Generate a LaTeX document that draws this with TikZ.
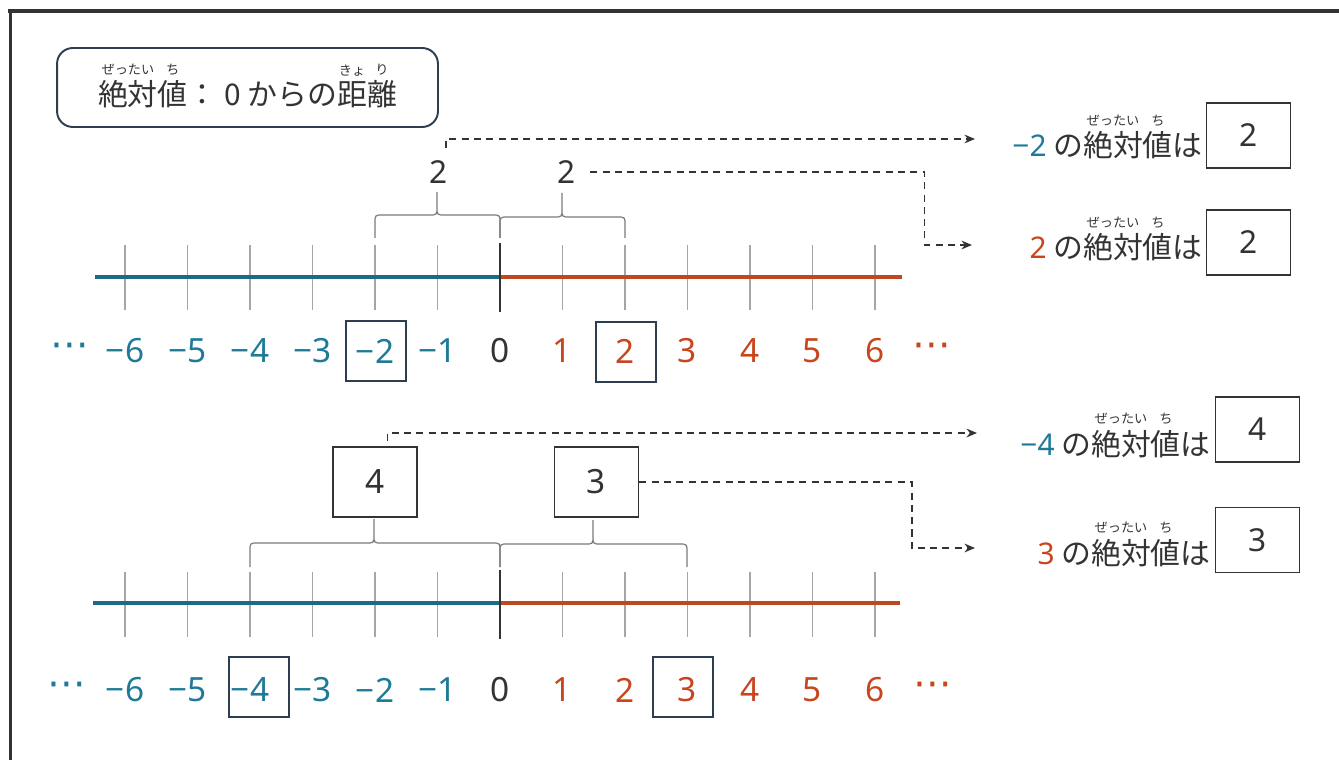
\documentclass[tikz,border=0pt]{standalone}
\usepackage{fontspec}
\setmainfont{Noto Sans CJK JP}
\newfontfamily\numfont{Noto Sans}
\newfontfamily\dotfont{DejaVu Sans}
\usetikzlibrary{arrows.meta}

\definecolor{negcol}{HTML}{1E7A98}
\definecolor{poscol}{HTML}{C7461E}
\definecolor{negline}{HTML}{1D6A84}
\definecolor{posline}{HTML}{BF4722}
\definecolor{inkcol}{HTML}{333333}
\definecolor{navycol}{HTML}{2C3E50}
\definecolor{bracecol}{HTML}{7A7A7A}

% ruby (furigana) over a base text
\newcommand\furi[2]{\begin{tabular}[b]{@{}c@{}}{\fontsize{7.5}{8}\selectfont #2}\\[-2.5pt]#1\end{tabular}}

\tikzset{
  numlbl/.style={font=\numfont\fontsize{19}{21}\selectfont, inner sep=1pt},
  dotlbl/.style={font=\dotfont\fontsize{22}{24}\selectfont, inner sep=1pt},
  boxed/.style={draw=navycol, line width=1.1pt, minimum width=1.2cm, minimum height=1.2cm},
  midbox/.style={draw=inkcol, line width=1.1pt, text=inkcol, font=\numfont\fontsize{19}{21}\selectfont, minimum width=1.68cm, minimum height=1.4cm},
  ansbox/.style={draw=inkcol, line width=1.1pt, text=inkcol, font=\numfont\fontsize{18}{20}\selectfont, minimum width=1.68cm, minimum height=1.3cm},
  jptext/.style={font=\fontsize{17}{20}\selectfont, text=inkcol, inner sep=0pt},
  distlbl/.style={font=\numfont\fontsize{18}{20}\selectfont, text=inkcol, inner sep=2pt},
  dasharrow/.style={draw=inkcol, line width=0.9pt, dash pattern=on 4pt off 3pt, -{Stealth[length=6pt,width=5pt]}},
  tickline/.style={draw=gray!70, line width=0.6pt},
  bracestyle/.style={draw=bracecol, line width=0.7pt},
}

\begin{document}
\begin{tikzpicture}[x=0.02cm,y=-0.02cm]
\useasboundingbox (0,0) rectangle (1339,760);

% frame, top and left side only
\draw[inkcol,line width=1.8pt] (8,11) -- (1339,11);
\draw[inkcol,line width=1.8pt] (10.5,11) -- (10.5,760);

% title
\node[jptext,draw=navycol,line width=1.1pt,rounded corners=9pt,minimum width=7.62cm,minimum height=1.58cm] (title) at (247.5,87.5)
  {\raisebox{2.5pt}[\height][\depth]{\furi{絶対}{ぜったい}\furi{値}{ち}： 0 からの\furi{距}{きょ}\furi{離}{り}}};

% upper number line
\foreach \k in {-6,...,6}
  \draw[tickline] ({500+62.5*\k},245) -- ({500+62.5*\k},310);
\draw[negline,line width=2.2pt] (95,277) -- (500,277);
\draw[posline,line width=2.2pt] (500,277) -- (902,277);
\draw[inkcol,line width=1.3pt] (500,243) -- (500,312);

\node[dotlbl,text=negcol] (udl) at (70,350) {⋯};
\foreach \k in {1,...,6}{
  \node[numlbl,text=negcol] (un\k) at ({500-62.5*\k},351) {−\k};
  \node[numlbl,text=poscol] (up\k) at ({500+62.5*\k},351) {\k};
}
\node[numlbl,text=inkcol] (uz) at (500,351) {0};
\node[dotlbl,text=poscol] (udr) at (932,350) {⋯};
\node[boxed] (ubxn) at (376,351) {};
\node[boxed] (ubxp) at (626,352) {};

% lower number line
\foreach \k in {-6,...,6}
  \draw[tickline] ({500+62.5*\k},572) -- ({500+62.5*\k},637);
\draw[negline,line width=2.2pt] (93,603) -- (500,603);
\draw[posline,line width=2.2pt] (500,603) -- (900,603);
\draw[inkcol,line width=1.3pt] (500,570) -- (500,639);

\node[dotlbl,text=negcol] (ldl) at (67,689) {⋯};
\foreach \k in {1,...,6}{
  \node[numlbl,text=negcol] (ln\k) at ({500-62.5*\k},690) {−\k};
  \node[numlbl,text=poscol] (lp\k) at ({500+62.5*\k},690) {\k};
}
\node[numlbl,text=inkcol] (lz) at (500,690) {0};
\node[dotlbl,text=poscol] (ldr) at (933,689) {⋯};
\node[boxed] (lbxn) at (259,687) {};
\node[boxed] (lbxp) at (683,687) {};

% braces
\foreach \xl/\xr/\xm/\ye/\yf/\yt in {375/500/437/238/215/192, 500/625/562/238/217/193,
                                     250/500/374/567/543/519, 500/687/593/567/544/520}
  \draw[bracestyle] (\xl,\ye) -- (\xl,\yf+8) .. controls (\xl,\yf) .. (\xl+8,\yf)
    -- (\xm-8,\yf) .. controls (\xm,\yf) .. (\xm,\yf-8) -- (\xm,\yt)
    (\xm,\yf-8) .. controls (\xm,\yf) .. (\xm+8,\yf)
    -- (\xr-8,\yf) .. controls (\xr,\yf) .. (\xr,\yf+8) -- (\xr,\ye);

% distances
\node[distlbl] (dA) at (439,172) {2};
\node[distlbl] (dB) at (567,172) {2};
\node[midbox] (boxC) at (375,482) {4};
\node[midbox] (boxD) at (596.5,482) {3};

% answers
\node[ansbox] (ansA) at (1248.5,135.5) {2};
\node[jptext,anchor=base east] (txtA) at (1203,157)
  {{\numfont\color{negcol}−2} の\furi{絶対}{ぜったい}\furi{値}{ち}は};
\node[ansbox] (ansB) at (1248.5,242.5) {2};
\node[jptext,anchor=base east] (txtB) at (1203,259)
  {{\numfont\color{poscol}2} の\furi{絶対}{ぜったい}\furi{値}{ち}は};
\node[ansbox] (ansC) at (1257.5,429.5) {4};
\node[jptext,anchor=base east] (txtC) at (1211,455)
  {{\numfont\color{negcol}−4} の\furi{絶対}{ぜったい}\furi{値}{ち}は};
\node[ansbox] (ansD) at (1257.5,540) {3};
\node[jptext,anchor=base east] (txtD) at (1211,564)
  {{\numfont\color{poscol}3} の\furi{絶対}{ぜったい}\furi{値}{ち}は};

% dashed connectors
\coordinate (tipA) at (975,139);
\coordinate (tipB) at (972,245);
\coordinate (tipC) at (977,433);
\coordinate (tipD) at (975,548);
\draw[dasharrow] ([xshift=4pt,yshift=5pt]dA.north) |- (tipA);
\draw[dasharrow] ([xshift=6pt]dB.east) -| ([xshift=-27pt]tipB) -- (tipB);
\draw[dasharrow] ([xshift=7pt,yshift=3pt]boxC.north) |- (tipC);
\draw[dasharrow] (boxD.east) -| ([xshift=-36pt]tipD) -- (tipD);

\end{tikzpicture}
\end{document}
